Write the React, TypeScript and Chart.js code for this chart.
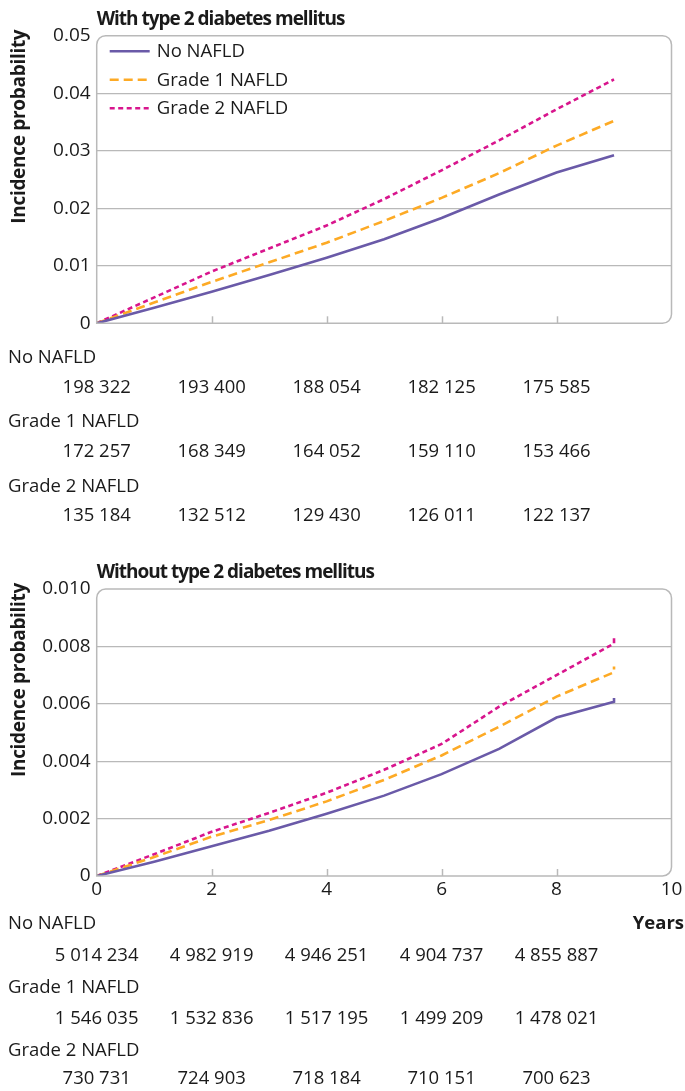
import React, { useEffect, useRef } from 'react';
import { Chart, registerables } from 'chart.js';

Chart.register(...registerables);

// ---------- DATA ----------
const seriesNames = ['No NAFLD', 'Grade 1 NAFLD', 'Grade 2 NAFLD'];

// With type 2 diabetes mellitus
const yearsWith = [0, 1, 2, 3, 4, 5, 6, 7, 8, 9];
const withNoNafld = [0, 0.0027, 0.0055, 0.0084, 0.0114, 0.0146, 0.0183, 0.0224, 0.0262, 0.0292];
const withGrade1 = [0, 0.0036, 0.0072, 0.0106, 0.014, 0.0178, 0.0218, 0.0261, 0.0309, 0.0352];
const withGrade2 = [0, 0.0045, 0.009, 0.013, 0.017, 0.0216, 0.0266, 0.0318, 0.0372, 0.0424];

// Without type 2 diabetes mellitus
const yearsWithout = [0, 1, 2, 3, 4, 5, 6, 7, 8, 9, 9];
const withoutNoNafld = [0, 0.0005, 0.00104, 0.00158, 0.00217, 0.0028, 0.00355, 0.00443, 0.00552, 0.00607, 0.0062];
const withoutGrade1 = [0, 0.00066, 0.00137, 0.00195, 0.0026, 0.00335, 0.0042, 0.0052, 0.00625, 0.0071, 0.0073];
const withoutGrade2 = [0, 0.00076, 0.00154, 0.0022, 0.0029, 0.0037, 0.0046, 0.0059, 0.007, 0.0081, 0.00828];

// Numbers at risk
const atRiskYears = [0, 2, 4, 6, 8];
const withRiskNo = ['198 322', '193 400', '188 054', '182 125', '175 585'];
const withRiskG1 = ['172 257', '168 349', '164 052', '159 110', '153 466'];
const withRiskG2 = ['135 184', '132 512', '129 430', '126 011', '122 137'];
const withoutRiskNo = ['5 014 234', '4 982 919', '4 946 251', '4 904 737', '4 855 887'];
const withoutRiskG1 = ['1 546 035', '1 532 836', '1 517 195', '1 499 209', '1 478 021'];
const withoutRiskG2 = ['730 731', '724 903', '718 184', '710 151', '700 623'];

const titleWith = 'With type 2 diabetes mellitus';
const titleWithout = 'Without type 2 diabetes mellitus';
const yAxisTitle = 'Incidence probability';
const xAxisTitle = 'Years';

// ---------- STYLE ----------
const FONT = "'Open Sans', 'Noto Sans', sans-serif";
const GRID = '#b9b9b9';
const TEXT = '#1a1a1a';
const COLORS = ['#6a5aa8', '#fdaa25', '#d8158d'];
const DASHES: number[][] = [[], [9, 5], [5, 3.5]];

const decor = {
  id: 'decor',
  afterDraw(chart: any, _args: any, o: any) {
    const { ctx, chartArea: a, scales } = chart;
    const xs = scales.x;
    ctx.save();
    // inner tick marks
    ctx.strokeStyle = GRID;
    ctx.lineWidth = 1.5;
    for (const t of xs.ticks) {
      if (t.value <= 0 || t.value >= 10) continue;
      const px = Math.round(xs.getPixelForValue(t.value)) + 0.5;
      ctx.beginPath();
      ctx.moveTo(px, a.bottom);
      ctx.lineTo(px, a.bottom - 7);
      ctx.stroke();
    }
    // frame
    ctx.beginPath();
    (ctx as any).roundRect(a.left, a.top, a.right - a.left, a.bottom - a.top, [9, 9, 9, 0]);
    ctx.stroke();

    // title
    ctx.fillStyle = TEXT;
    ctx.font = `bold 19px ${FONT}`;
    ctx.textAlign = 'left';
    ctx.textBaseline = 'alphabetic';
    (ctx as any).letterSpacing = '-1px';
    ctx.fillText(o.title, a.left, o.titleY);

    // y axis title
    ctx.save();
    ctx.translate(o.axisTitleX, a.top + 91);
    ctx.rotate(-Math.PI / 2);
    ctx.textAlign = 'center';
    ctx.textBaseline = 'middle';
    (ctx as any).letterSpacing = '-0.3px';
    ctx.font = `bold 19px ${FONT}`;
    ctx.fillText(yAxisTitle, 0, 0);
    ctx.restore();
    (ctx as any).letterSpacing = '0px';

    // legend
    if (o.legend) {
      ctx.font = `18.5px ${FONT}`;
      ctx.textBaseline = 'middle';
      chart.data.datasets.forEach((ds: any, i: number) => {
        const yy = a.top + 15.5 + i * 28.5;
        ctx.strokeStyle = ds.borderColor;
        ctx.lineWidth = ds.borderWidth;
        ctx.setLineDash(ds.borderDash || []);
        ctx.beginPath();
        ctx.moveTo(a.left + 13, yy);
        ctx.lineTo(a.left + 53, yy);
        ctx.stroke();
        ctx.setLineDash([]);
        ctx.fillStyle = TEXT;
        ctx.fillText(ds.label, a.left + 60, yy + 1);
      });
    }

    // x axis title
    if (o.xTitle) {
      ctx.font = `bold 18.5px ${FONT}`;
      ctx.textAlign = 'right';
      ctx.textBaseline = 'alphabetic';
      ctx.fillStyle = TEXT;
      ctx.fillText(o.xTitle, chart.width - 1, o.rows[0]);
    }

    // numbers at risk
    ctx.font = `18.5px ${FONT}`;
    ctx.fillStyle = TEXT;
    ctx.textBaseline = 'alphabetic';
    o.risk.forEach((row: string[], i: number) => {
      ctx.textAlign = 'left';
      ctx.fillText(seriesNames[i], 8, o.rows[i * 2]);
      ctx.textAlign = 'center';
      row.forEach((txt, j) => {
        ctx.fillText(txt, xs.getPixelForValue(atRiskYears[j]), o.rows[i * 2 + 1]);
      });
    });
    ctx.restore();
  },
};

function buildConfig(p: any) {
  const datasets = p.series.map((s: number[], i: number) => ({
    label: seriesNames[i],
    data: p.years.map((x: number, k: number) => ({ x, y: s[k] })),
    borderColor: COLORS[i],
    backgroundColor: COLORS[i],
    borderWidth: 2.6,
    borderDash: DASHES[i],
    pointRadius: 0,
    tension: 0,
    fill: false,
  }));
  return {
    type: 'line',
    data: { datasets },
    plugins: [decor],
    options: {
      responsive: false,
      maintainAspectRatio: false,
      animation: false,
      layout: { padding: { top: p.top, right: 13.5, left: 0, bottom: p.padBottom } },
      plugins: {
        legend: { display: false },
        tooltip: { enabled: false },
        decor: {
          title: p.title,
          titleY: p.titleY,
          axisTitleX: 19.5,
          legend: p.legend,
          xTitle: p.xTitle,
          rows: p.rows,
          risk: p.risk,
        },
      },
      scales: {
        x: {
          type: 'linear',
          min: 0,
          max: 10,
          ticks: {
            stepSize: 2,
            display: p.showX,
            color: TEXT,
            font: { family: FONT, size: 19 },
            padding: 2,
            maxRotation: 0,
          },
          grid: { display: false, drawTicks: false },
          border: { display: false },
          afterFit: (s: any) => {
            s.height = p.xH;
          },
        },
        y: {
          min: 0,
          max: p.ymax,
          ticks: {
            stepSize: p.ystep,
            color: TEXT,
            font: { family: FONT, size: 19 },
            padding: 6,
            callback: (v: number) => (v === 0 ? '0' : v.toFixed(p.dec)),
          },
          grid: {
            drawTicks: false,
            lineWidth: 1.2,
            color: (c: any) =>
              c.tick && (c.tick.value === 0 || Math.abs(c.tick.value - p.ymax) < 1e-9) ? 'rgba(0,0,0,0)' : GRID,
          },
          border: { display: false },
          afterFit: (s: any) => {
            s.width = 96.7;
          },
        },
      },
    },
  };
}

function ChartCanvas({ params, height, top }: { params: any; height: number; top: number }) {
  const ref = useRef<HTMLCanvasElement | null>(null);
  useEffect(() => {
    if (!ref.current) return;
    const chart = new Chart(ref.current, buildConfig(params) as any);
    return () => chart.destroy();
  }, []);
  return (
    <canvas
      ref={ref}
      width={685}
      height={height}
      style={{ position: 'absolute', left: 0, top, width: 685, height }}
    />
  );
}

const H1 = 545;
const H2 = 546;

const paramsWith = {
  years: yearsWith,
  series: [withNoNafld, withGrade1, withGrade2],
  title: titleWith,
  titleY: 25,
  top: 35.7,
  padBottom: H1 - 323.3 - 1,
  xH: 1,
  showX: false,
  ymax: 0.05,
  ystep: 0.01,
  dec: 2,
  legend: true,
  xTitle: null,
  rows: [363, 392.7, 427.3, 456.7, 491.7, 521],
  risk: [withRiskNo, withRiskG1, withRiskG2],
};

const paramsWithout = {
  years: yearsWithout,
  series: [withoutNoNafld, withoutGrade1, withoutGrade2],
  title: titleWithout,
  titleY: 33,
  top: 44,
  padBottom: H2 - 331 - 30,
  xH: 30,
  showX: true,
  ymax: 0.01,
  ystep: 0.002,
  dec: 3,
  legend: false,
  xTitle: xAxisTitle,
  rows: [384, 416, 448, 479, 511, 539],
  risk: [withoutRiskNo, withoutRiskG1, withoutRiskG2],
};

export default function App() {
  return (
    <div style={{ position: 'absolute', left: 0, top: 0, width: 685, height: 1091, background: '#fff' }}>
      <ChartCanvas params={paramsWith} height={H1} top={0} />
      <ChartCanvas params={paramsWithout} height={H2} top={545} />
    </div>
  );
}
